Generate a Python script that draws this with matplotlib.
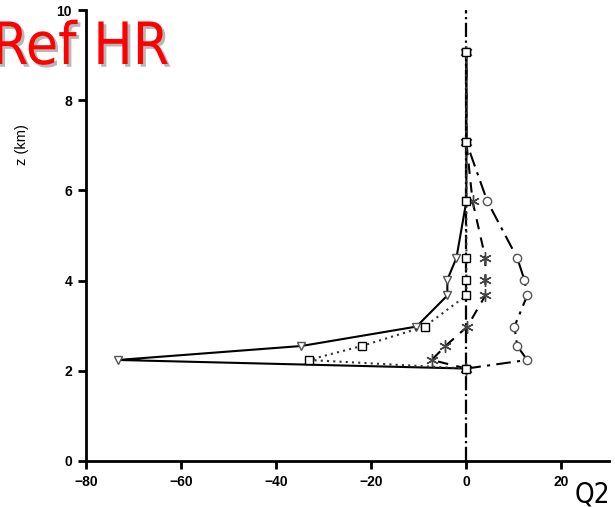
import matplotlib
matplotlib.use("Agg")
import matplotlib.pyplot as plt
import matplotlib.patheffects as pe

# Data (z levels in km, Q2 values)
z = [2.05, 2.24, 2.55, 2.98, 3.67, 4.02, 4.50, 5.76, 7.07, 9.07]
q_solid = [0, -73.3, -34.7, -10.5, -4.0, -4.0, -2.1, 0, 0, 0]
q_dotted = [0, -33.2, -22.0, -8.8, 0, 0, 0, 0, 0, 0]
q_dashed = [0, -7.3, -4.4, 0.2, 4.0, 4.0, 4.0, 1.3, 0, 0]
q_dashdot = [0, 12.8, 10.7, 10.1, 12.8, 12.2, 10.7, 4.4, 0, 0]
zero_z = [0, 10]
zero_q = [0, 0]
xticks = [-80, -60, -40, -20, 0, 20]
yticks = [0, 2, 4, 6, 8, 10]

fig = plt.figure(figsize=(6.15, 5.07), dpi=100)
ax = fig.add_axes([86/615, (507-461)/507, 523/615, 451/507])

ax.plot(zero_q, zero_z, color='black', lw=1.6, ls='-.', zorder=2)
mk = dict(markerfacecolor='white', markersize=6, markeredgewidth=1.0)
ax.plot(q_solid, z, color='black', lw=1.5, ls='-', marker='v',
        markeredgecolor='#555555', **mk, zorder=3)
ax.plot(q_dotted, z, color='#333333', lw=1.5, ls=(0, (1, 2)), marker='s',
        markeredgecolor='black', **mk, zorder=4)
ax.plot(q_dashed, z, color='black', lw=1.5, ls=(0, (5, 4)), marker=(6, 2, 0),
        markeredgecolor='#444444', markersize=9, markeredgewidth=1.0, zorder=3)
ax.plot(q_dashdot, z, color='black', lw=1.5, ls=(0, (7, 3, 1.5, 3)), marker='o',
        markeredgecolor='#555555', **mk, zorder=3)

ax.set_xlim(-80, 30)
ax.set_ylim(0, 10)
ax.set_xticks(xticks)
ax.set_yticks(yticks)
for s in ['top', 'right']:
    ax.spines[s].set_visible(False)
for s in ['left', 'bottom']:
    ax.spines[s].set_linewidth(2)
ax.tick_params(direction='out', length=6, width=2, labelsize=10, pad=4)
for lab in ax.get_xticklabels() + ax.get_yticklabels():
    lab.set_fontweight('bold')
    lab.set_family('Liberation Sans')

fig.text(22/615, 1 - 145/507, 'z (km)', rotation=90, ha='center', va='center',
         fontsize=10.5, family='Liberation Sans')
fig.text(575/615, 1 - 503/507, 'Q2', ha='left', va='baseline', fontsize=20,
         family='DejaVu Sans', fontstretch='condensed')
fig.text(-8/615, 1 - 64/507, 'Ref HR', ha='left', va='baseline', fontsize=42,
         color='red', family='DejaVu Sans', fontstretch='condensed',
         path_effects=[pe.withSimplePatchShadow(offset=(2, -2), shadow_rgbFace='#999999', alpha=0.7)])

fig.savefig('out.png', dpi=100)
